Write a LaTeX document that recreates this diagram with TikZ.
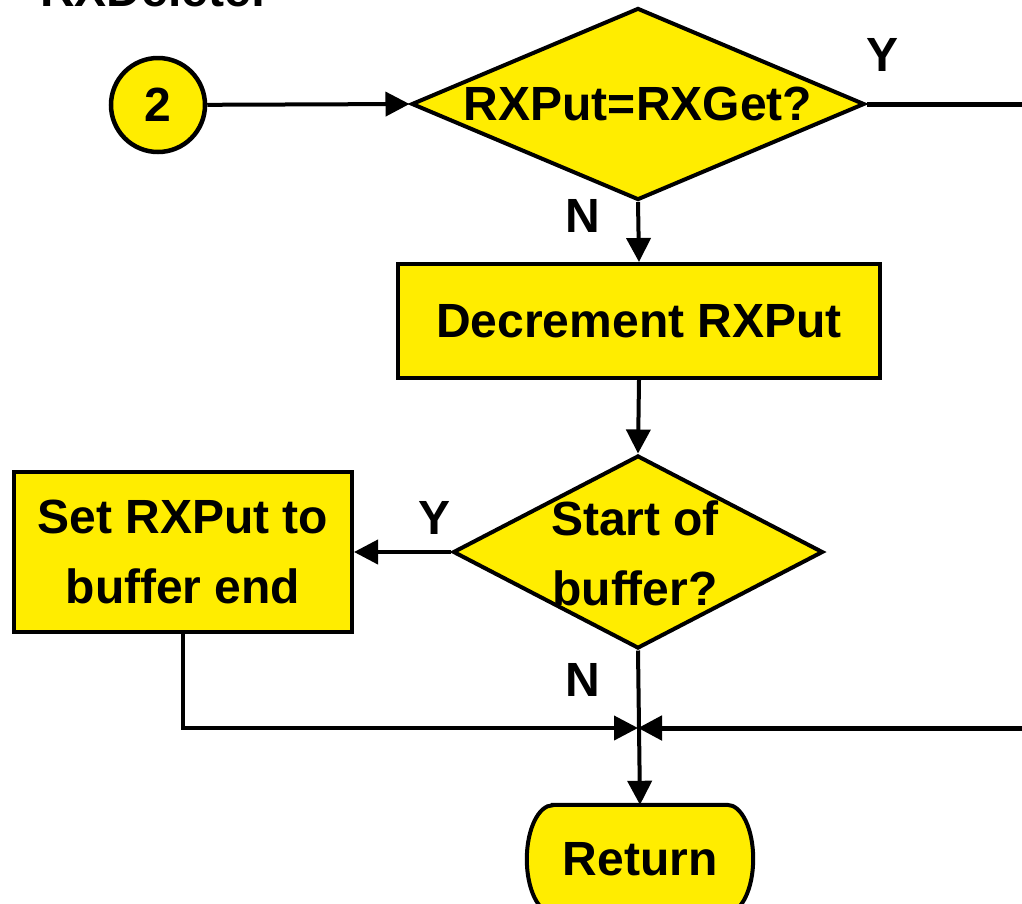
\documentclass[tikz,border=0pt]{standalone}
\usepackage{fontspec}
\setmainfont{Liberation Sans}
\usetikzlibrary{shapes.geometric,arrows.meta}
\definecolor{fc}{RGB}{255,237,0}
\begin{document}
\begin{tikzpicture}[x=1pt,y=-1pt,
  font=\fontsize{48}{70}\selectfont\bfseries,
  box/.style={draw, line width=4pt, fill=fc, inner sep=0pt, align=center},
  dia/.style={diamond, draw, line width=4pt, fill=fc, inner sep=0pt},
  conn/.style={line width=4pt, -{Triangle[length=24pt,width=24pt]}},
  lbl/.style={inner sep=0pt}]
\clip (0,0) rectangle (1022,903);
\node[anchor=base west, inner sep=0pt] (title) at (40,6) {RXDelete:};
\node[circle, draw, line width=4.5pt, fill=fc, minimum size=94pt, inner sep=0pt] (c2) at (158,105) {2};
\node[dia, minimum width=453pt, minimum height=192pt] (d1) at (638,104) {};
\node[lbl] (t1) at (d1.center) {RXPut=RXGet?};
\node[box, minimum width=482pt, minimum height=114pt] (b1) at (639,321) {Decrement RXPut};
\node[dia, minimum width=370pt, minimum height=193pt] (d2) at (638,552) {};
\node[lbl, align=center] (t2) at (635,553) {Start of\\buffer?};
\node[box, minimum width=338pt, minimum height=160pt] (b2) at (183,552) {Set RXPut to\\buffer end};
\node[minimum width=226pt, minimum height=108pt, inner sep=0pt] (ret) at (640,859) {};
\draw[line width=4pt, fill=fc] ([xshift=26pt]ret.north west) -- ([xshift=-26pt]ret.north east)
  arc[start angle=90, end angle=-90, x radius=26pt, y radius=54pt]
  -- ([xshift=26pt]ret.south west)
  arc[start angle=270, end angle=90, x radius=26pt, y radius=54pt] -- cycle;
\node[lbl] (rt) at (ret.center) {Return};
\coordinate (j) at (638,728);
\coordinate (r1) at (1045,104);
\coordinate (r2) at (1045,728);
\draw[conn] (c2) -- (d1.west);
\draw[conn] (d1.south) -- (b1.north);
\draw[conn] (b1.south) -- (d2.north);
\draw[conn] (d2.west) -- (b2.east);
\draw[conn] (d2.south) -- (ret.north);
\draw[conn] (b2.south) |- (j);
\draw[conn, line width=5pt] (d1.east) -- (r1) -- (r2) -- (j);
\node[lbl] (y1) at (882,55) {Y};
\node[lbl] (n1) at (583,216) {N};
\node[lbl] (y2) at (435,518) {Y};
\node[lbl] (n2) at (583,680) {N};
\end{tikzpicture}
\end{document}
